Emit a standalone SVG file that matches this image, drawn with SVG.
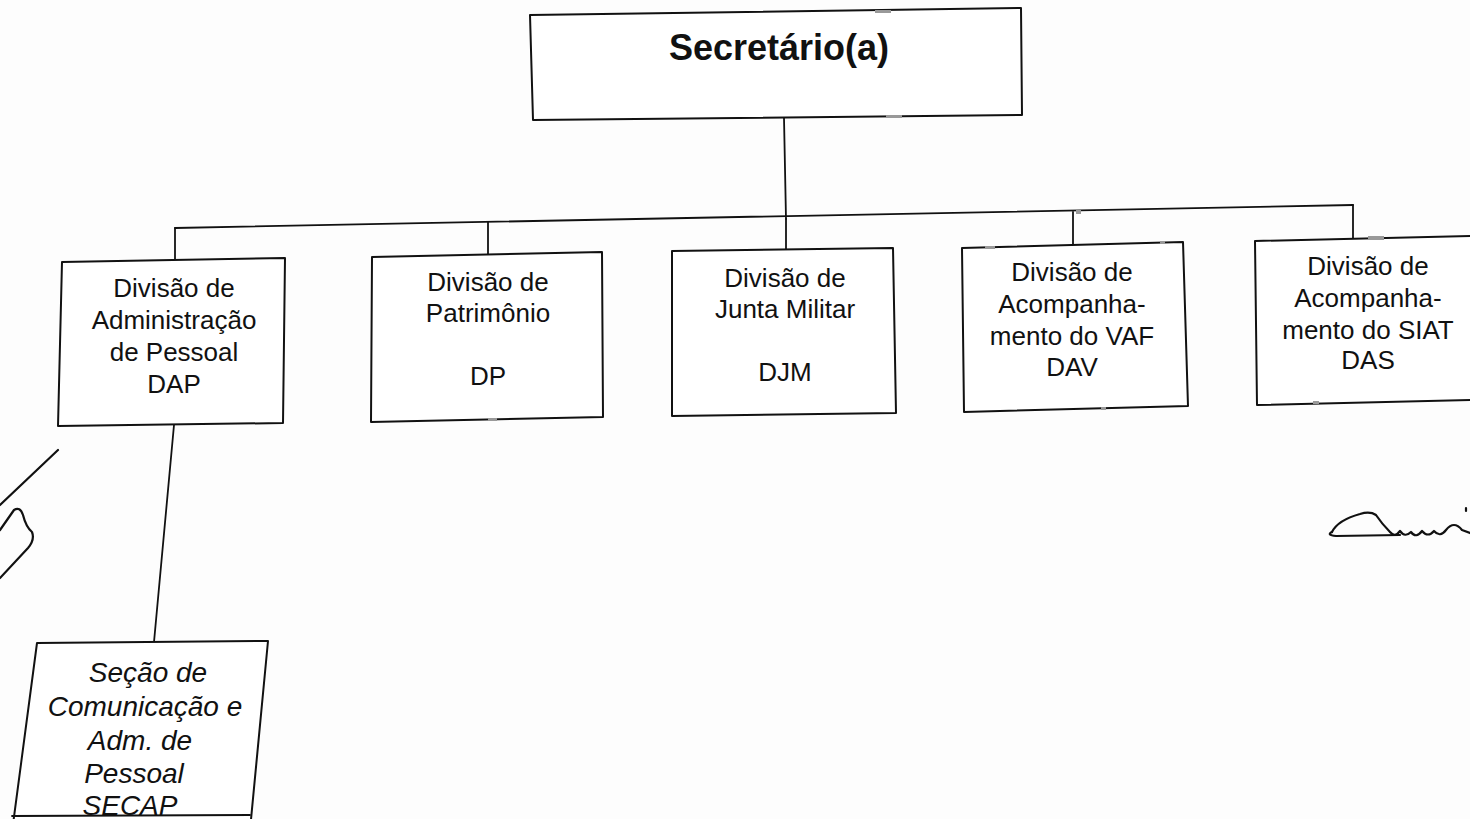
<svg xmlns="http://www.w3.org/2000/svg" width="1470" height="819" viewBox="0 0 1470 819">
<defs>
<style>
.box{fill:#fff;stroke:#111;stroke-width:2;stroke-linejoin:round}
.ln{fill:none;stroke:#111;stroke-width:1.8;stroke-linecap:round}
.t{font-family:"Liberation Sans",Arial,sans-serif;font-size:26px;fill:#111;text-anchor:middle}
.ti{font-style:italic;font-size:28px}
.h{font-family:"Liberation Sans",Arial,sans-serif;font-size:36px;font-weight:bold;fill:#111;text-anchor:middle}
.hd{fill:#999;stroke:none}
.sig{fill:none;stroke:#111;stroke-width:2.2;stroke-linecap:round;stroke-linejoin:round}
</style>
</defs>
<rect width="1470" height="819" fill="#fdfdfd"/>

<g id="connectors">
<path class="ln" d="M784 118 L786 219"/>
<path class="ln" d="M175 228 L1353 205"/>
<path class="ln" d="M175 228 L175 261"/>
<path class="ln" d="M488 222 L488 254"/>
<path class="ln" d="M786 219 L786 250"/>
<path class="ln" d="M1073 212 L1073 244"/>
<path class="ln" d="M1353 205 L1353 239"/>
<path class="ln" d="M174 425 L154 642"/>
</g>

<g id="secretario">
<polygon class="box" points="530,15 1021,8 1022,115 533,120"/>
<rect class="hd" x="875" y="10" width="16" height="3"/>
<rect class="hd" x="886" y="115" width="16" height="3"/>
<text class="h" x="779" y="60">Secretário(a)</text>
</g>

<g id="dap">
<polygon class="box" points="62,262 285,258 283,423 58,426"/>
<text class="t" x="174" y="297">Divisão de</text>
<text class="t" x="174" y="329">Administração</text>
<text class="t" x="174" y="361">de Pessoal</text>
<text class="t" x="174" y="393">DAP</text>
</g>

<g id="dp">
<polygon class="box" points="372,257 602,252 603,417 371,422"/>
<rect class="hd" x="488" y="418" width="9" height="3"/>
<text class="t" x="488" y="291">Divisão de</text>
<text class="t" x="488" y="322">Patrimônio</text>
<text class="t" x="488" y="385">DP</text>
</g>

<g id="djm">
<polygon class="box" points="672,251 893,248 896,413 672,416"/>
<text class="t" x="785" y="287">Divisão de</text>
<text class="t" x="785" y="318">Junta Militar</text>
<text class="t" x="785" y="381">DJM</text>
</g>

<g id="dav">
<polygon class="box" points="962,248 1183,242 1188,406 964,412"/>
<rect class="hd" x="985" y="246" width="10" height="3"/>
<rect class="hd" x="1160" y="241" width="5" height="3"/>
<rect class="hd" x="1076" y="210" width="5" height="4"/>
<rect class="hd" x="1101" y="407" width="5" height="3"/>
<text class="t" x="1072" y="281">Divisão de</text>
<text class="t" x="1072" y="313">Acompanha-</text>
<text class="t" x="1072" y="345">mento do VAF</text>
<text class="t" x="1072" y="376">DAV</text>
</g>

<g id="das">
<polygon class="box" points="1255,241 1472,236 1472,400 1257,405"/>
<rect class="hd" x="1368" y="236" width="16" height="4"/>
<rect class="hd" x="1313" y="401" width="6" height="3"/>
<text class="t" x="1368" y="275">Divisão de</text>
<text class="t" x="1368" y="307">Acompanha-</text>
<text class="t" x="1368" y="339">mento do SIAT</text>
<text class="t" x="1368" y="369">DAS</text>
</g>

<g id="secap">
<polygon class="box" points="37,643 268,641 250,830 12,832"/>
<text class="t ti" x="148" y="682">Seção de</text>
<text class="t ti" x="145" y="716">Comunicação e</text>
<text class="t ti" x="140" y="750">Adm. de</text>
<text class="t ti" x="134" y="783">Pessoal</text>
<text class="t ti" x="130" y="815">SECAP</text>
<path class="ln" d="M12 816 L250 815"/>
</g>

<g id="marks">
<path class="sig" d="M58 450 L0 505"/>
<path class="sig" d="M0 530 L14 510 Q20 506 23 515 Q26 527 32 532 Q35 540 28 548 L0 578"/>
<path class="sig" d="M1332 532 Q1338 520 1360 514 Q1370 511 1376 515 Q1382 524 1390 532 Q1395 538 1400 531 Q1405 538 1411 532 Q1416 539 1422 531 Q1428 538 1434 531 Q1440 538 1446 530 Q1454 520 1462 530 L1470 533"/>
<path class="sig" d="M1332 532 Q1326 535 1336 536 L1400 535"/>
<path class="sig" d="M1466 508 L1466 511"/>
</g>
</svg>
